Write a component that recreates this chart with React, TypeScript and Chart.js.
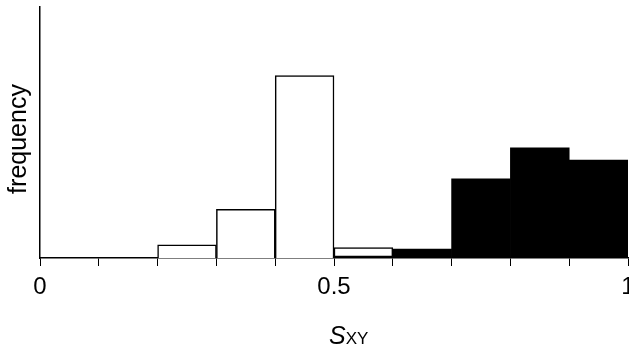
import React, { useEffect, useRef } from "react";
import { Chart, registerables } from "chart.js";

Chart.register(...registerables);

// Bin centres (S_XY, bin width 0.1)
const binCenters = [0.05, 0.15, 0.25, 0.35, 0.45, 0.55, 0.65, 0.75, 0.85, 0.95];
// White (outlined) histogram, arbitrary frequency units
const whiteValues = [0, 0, 5.2, 19.4, 72.7, 4.2, 0, 0, 0, 0];
// Black (filled) histogram
const blackValues = [0, 0, 0, 0, 0, 0.8, 3.6, 31.5, 43.9, 39.0];
// Tick labels shown on the x axis
const xTickLabels: Record<string, string> = { "0": "0", "0.5": "0.5", "1": "1" };
const yAxisTitle = "frequency";
const xTitleMain = "S";
const xTitleSub = "XY";

const FONT = "'Liberation Sans', Arial, Helvetica, sans-serif";

export default function App() {
  const ref = useRef<HTMLCanvasElement | null>(null);

  useEffect(() => {
    document.body.style.margin = "0";
    const canvas = ref.current;
    if (!canvas) return;

    const titlesPlugin = {
      id: "titles",
      afterDraw(chart: any) {
        const ctx = chart.ctx as CanvasRenderingContext2D;
        ctx.save();
        ctx.fillStyle = "#000";
        // y title
        ctx.font = `25px ${FONT}`;
        ctx.textAlign = "center";
        ctx.textBaseline = "alphabetic";
        ctx.translate(26, 139);
        ctx.rotate(-Math.PI / 2);
        ctx.fillText(yAxisTitle, 0, 0);
        ctx.restore();

        ctx.save();
        ctx.fillStyle = "#000";
        ctx.textAlign = "left";
        ctx.textBaseline = "alphabetic";
        ctx.font = `italic 25px ${FONT}`;
        const wS = ctx.measureText(xTitleMain).width;
        const x0 = 329;
        ctx.fillText(xTitleMain, x0, 344);
        ctx.font = `17px ${FONT}`;
        ctx.fillText(xTitleSub, x0 + wS, 344);
        ctx.restore();
      },
    };

    const toNull = (v: number) => (v === 0 ? null : v);

    const chart = new Chart(canvas, {
      type: "bar",
      data: {
        datasets: [
          {
            label: "black",
            data: binCenters.map((x, i) => ({ x, y: toNull(blackValues[i]) })) as any,
            backgroundColor: "#000",
            borderWidth: 0,
            barPercentage: 1,
            categoryPercentage: 1,
          },
          {
            label: "white",
            data: binCenters.map((x, i) => ({ x, y: toNull(whiteValues[i]) })) as any,
            backgroundColor: "#fff",
            borderColor: "#000",
            borderWidth: 1.5,
            borderSkipped: "start",
            barPercentage: 1,
            categoryPercentage: 1,
          },
        ],
      },
      options: {
        animation: false,
        responsive: false,
        devicePixelRatio: 1,
        layout: { padding: { left: 0, right: 1, top: 7, bottom: 0 } },
        plugins: { legend: { display: false }, tooltip: { enabled: false } },
        datasets: { bar: { grouped: false } } as any,
        scales: {
          x: {
            type: "linear",
            min: 0,
            max: 1,
            offset: false,
            afterFit: (scale: any) => {
              scale.height = 354 - 258;
              scale.paddingLeft = 0;
              scale.paddingRight = 0;
            },
            border: { display: true, color: "#000", width: 1.5 },
            grid: {
              display: true,
              drawOnChartArea: false,
              drawTicks: true,
              tickLength: 8,
              color: "#000",
              lineWidth: 1,
              offset: false,
            },
            ticks: {
              stepSize: 0.1,
              autoSkip: false,
              maxRotation: 0,
              minRotation: 0,
              padding: 7,
              color: "#000",
              font: { family: FONT, size: 24 },
              callback: (value: any) => {
                const v = Math.round(Number(value) * 10) / 10;
                return xTickLabels[String(v)] ?? "";
              },
            },
          },
          y: {
            type: "linear",
            min: 0,
            max: 100,
            afterFit: (scale: any) => {
              scale.width = 40;
            },
            border: { display: true, color: "#000", width: 1.5 },
            grid: { display: false, drawTicks: false },
            ticks: { display: false },
          },
        },
      },
      plugins: [titlesPlugin],
    });

    return () => chart.destroy();
  }, []);

  return (
    <div style={{ width: 629, height: 354, position: "relative" }}>
      <canvas ref={ref} width={629} height={354} />
    </div>
  );
}
